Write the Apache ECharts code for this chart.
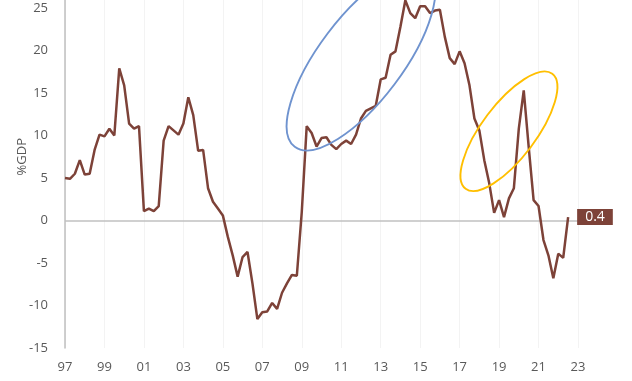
<!DOCTYPE html>
<html>
<head>
<meta charset="utf-8">
<script src="https://cdn.jsdelivr.net/npm/echarts@6/dist/echarts.min.js"></script>
<style>
html,body{margin:0;padding:0;background:#fff;}
#chart{width:632px;height:381px;}
</style>
</head>
<body>
<div id="chart"></div>
<script>
// Quarterly categories 1997Q1 .. 2023Q1
var startYear = 1997, endYear = 2023;
var categories = [];
for (var y = startYear; y <= endYear; y++) {
  for (var q = 1; q <= 4; q++) {
    categories.push(y + 'Q' + q);
    if (y === endYear) break;
  }
}
// Tick labels shown every 2 years
var tickLabels = ['97','99','01','03','05','07','09','11','13','15','17','19','21','23'];

// %GDP series, 1997Q1 .. 2022Q3
var values = [
  5.0, 4.9, 5.5, 7.1, 5.4, 5.5, 8.3, 10.1, 9.9, 10.8, 10.0, 17.9, 15.9, 11.4, 10.8, 11.1,
  1.1, 1.4, 1.1, 1.7, 9.4, 11.1, 10.6, 10.1, 11.4, 14.5,
  12.4, 8.2, 8.3, 3.8, 2.2, 1.4, 0.6, -1.9, -4.1, -6.6, -4.3, -3.7, -7.4, -11.6, -10.8, -10.7,
  -9.7, -10.4, -8.5, -7.4, -6.4, -6.5, 1.0,
  11.1, 10.3, 8.7, 9.7, 9.8, 8.9, 8.4, 9.0, 9.4, 9.0, 10.1, 12.0,
  12.9, 13.2, 13.5, 16.6, 16.8, 19.5, 19.9, 22.8, 25.9, 24.4, 23.8, 25.2, 25.2, 24.4, 24.7, 24.8, 21.6,
  19.1, 18.4, 19.9, 18.5, 15.9, 12.0, 10.6, 7.1, 4.4, 0.9, 2.4, 0.4, 2.6, 3.8, 10.8, 15.3, 8.7,
  2.4, 1.7, -2.3, -4.1, -6.8, -3.9, -4.4, 0.4
];

// Annotation ellipses (center in data coords: [category index, value])
var ellipses = [
  { center: [59.6, 19.0], rx: 110, ry: 42, angle: 53, color: '#6f93cf' },
  { center: [89.7, 10.5], rx: 72, ry: 27, angle: 53, color: '#ffbf00' }
];

var lineColor = '#7d4238';
var textColor = '#595959';
var font = '"Open Sans", "Noto Sans", sans-serif';

var chart = echarts.init(document.getElementById('chart'), null, {renderer: 'canvas'});
var option = {
  animation: false,
  backgroundColor: '#ffffff',
  grid: { left: 65, right: 54, top: -34.5, bottom: 33, containLabel: false, outerBoundsMode: 'none' },
  xAxis: {
    type: 'category',
    data: categories,
    boundaryGap: false,
    axisLine: { show: false, onZero: false },
    axisTick: { show: false },
    axisLabel: {
      interval: 7,
      color: textColor,
      fontFamily: font,
      fontSize: 13,
      margin: 13,
      formatter: function (v) { return v.slice(2, 4); }
    },
    splitLine: { show: true, interval: 7, lineStyle: { color: '#f3f3f3', width: 1 } }
  },
  yAxis: {
    type: 'value',
    min: -15, max: 30, interval: 5,
    name: '%GDP',
    nameLocation: 'middle',
    nameGap: 36,
    nameRotate: 90,
    nameMoveOverlap: false,
    nameTextStyle: { color: textColor, fontFamily: font, fontSize: 13 },
    axisLine: { show: true, lineStyle: { color: '#bfbfbf', width: 1.5 } },
    axisTick: { show: false },
    axisLabel: { color: textColor, fontFamily: font, fontSize: 13, margin: 17 },
    splitLine: { show: false }
  },
  series: [{
    type: 'line',
    data: values,
    showSymbol: false,
    symbol: 'none',
    lineStyle: { color: lineColor, width: 2.5 },
    z: 3,
    endLabel: {
      show: true,
      formatter: function (p) { return p.value.toFixed(1); },
      backgroundColor: lineColor,
      color: '#ffffff',
      fontFamily: font,
      fontSize: 14,
      padding: [1, 8, 1, 8],
      distance: 9
    },
    markLine: {
      silent: true,
      symbol: 'none',
      label: { show: false },
      lineStyle: { color: '#c0c0c0', width: 1.5, type: 'solid' },
      data: [{ yAxis: 0 }],
      z: 1
    }
  }]
};
chart.setOption(option);

var graphics = ellipses.map(function (e) {
  var p = chart.convertToPixel({ gridIndex: 0 }, e.center);
  return {
    type: 'ellipse',
    x: p[0], y: p[1],
    rotation: e.angle * Math.PI / 180,
    shape: { cx: 0, cy: 0, rx: e.rx, ry: e.ry },
    style: { fill: 'none', stroke: e.color, lineWidth: 1.9 },
    silent: true,
    z: 10
  };
});
chart.setOption({ graphic: graphics });
</script>
</body>
</html>
